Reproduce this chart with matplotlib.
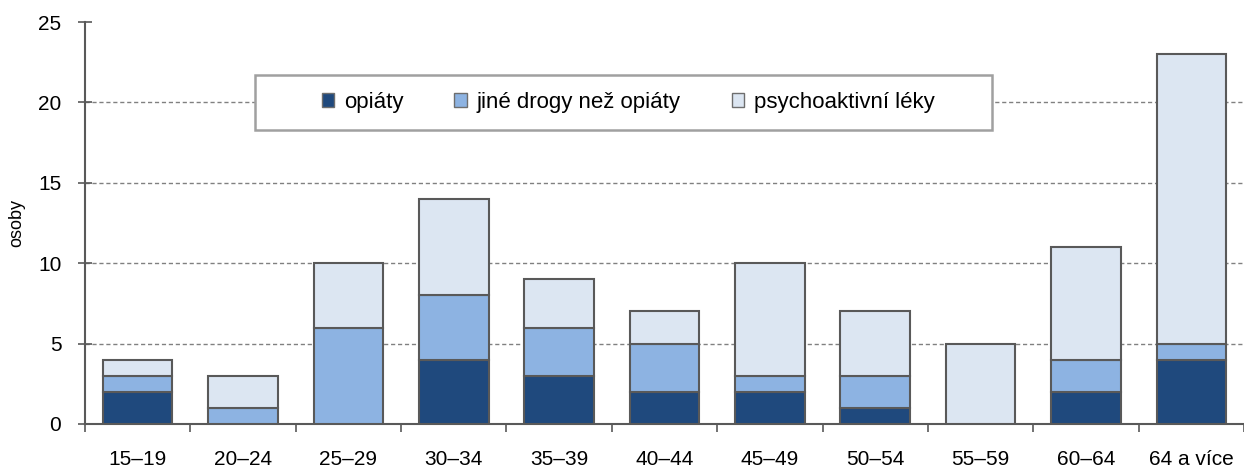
import matplotlib
matplotlib.use("Agg")
import matplotlib.pyplot as plt
from matplotlib.patches import Rectangle
import numpy as np

plt.rcParams['font.family'] = ['Liberation Sans', 'DejaVu Sans']

categories = ["15–19", "20–24", "25–29", "30–34", "35–39", "40–44",
              "45–49", "50–54", "55–59", "60–64", "64 a více"]
opiaty = [2, 0, 0, 4, 3, 2, 2, 1, 0, 2, 4]
jine = [1, 1, 6, 4, 3, 3, 1, 2, 0, 2, 1]
psycho = [1, 2, 4, 6, 3, 2, 7, 4, 5, 7, 18]
series_names = ["opiáty", "jiné drogy než opiáty", "psychoaktivní léky"]
colors = ["#1F497D", "#8DB3E2", "#DCE6F2"]

fig = plt.figure(figsize=(12.44, 4.69), dpi=100)
ax = fig.add_axes([0.0683, 0.096, 0.9317, 0.857])

x = np.arange(len(categories))
w = 0.66
edge = "#595959"
bottom = np.zeros(len(categories))
for vals, name, c in zip([opiaty, jine, psycho], series_names, colors):
    ax.bar(x, vals, w, bottom=bottom, color=c, edgecolor=edge, linewidth=1.5,
           label=name, zorder=3)
    bottom += np.array(vals)

ax.set_xlim(-0.5, len(categories) - 0.5)
ax.set_ylim(0, 25)
ax.set_yticks([0, 5, 10, 15, 20, 25])
ax.set_xticks(x)
ax.set_xticklabels(categories, fontsize=15)
ax.set_xticks(np.arange(-0.5, len(categories), 1), minor=True)
ax.tick_params(axis='x', which='major', length=0, pad=19)
ax.tick_params(axis='x', which='minor', length=6, width=1.2, color=edge, direction='out')
ax.tick_params(axis='y', labelsize=15, length=10, width=1.2, color=edge, direction='inout', pad=12)
for yv in [5, 10, 15, 20]:
    ax.axhline(yv, color="#808080", linestyle=(0, (3, 2)), linewidth=1, zorder=1)

for s in ['top', 'right']:
    ax.spines[s].set_visible(False)
for s in ['left', 'bottom']:
    ax.spines[s].set_color(edge)
    ax.spines[s].set_linewidth(1.5)

ax.set_ylabel("osoby", fontsize=13)
ax.yaxis.set_label_coords(-0.0518, 0.5)

# legend frame box
x0 = (255 - 85) / 1159
x1 = (992 - 85) / 1159
y0 = (424 - 130) / 402
y1 = (424 - 75) / 402
ax.add_patch(Rectangle((x0, y0), x1 - x0, y1 - y0, transform=ax.transAxes,
                       facecolor="white", edgecolor="#A0A0A0", linewidth=1.8,
                       zorder=5))
leg = ax.legend(loc='center', bbox_to_anchor=((x0 + x1) / 2 + 0.004, (y0 + y1) / 2),
                ncol=3, frameon=False, fontsize=16, handlelength=0.55,
                handleheight=0.55, handletextpad=0.45, columnspacing=2.3)
for h in leg.legend_handles:
    h.set_edgecolor("#6e6e6e")
    h.set_linewidth(1.0)
leg.set_zorder(6)

fig.savefig("out.png", dpi=100)
